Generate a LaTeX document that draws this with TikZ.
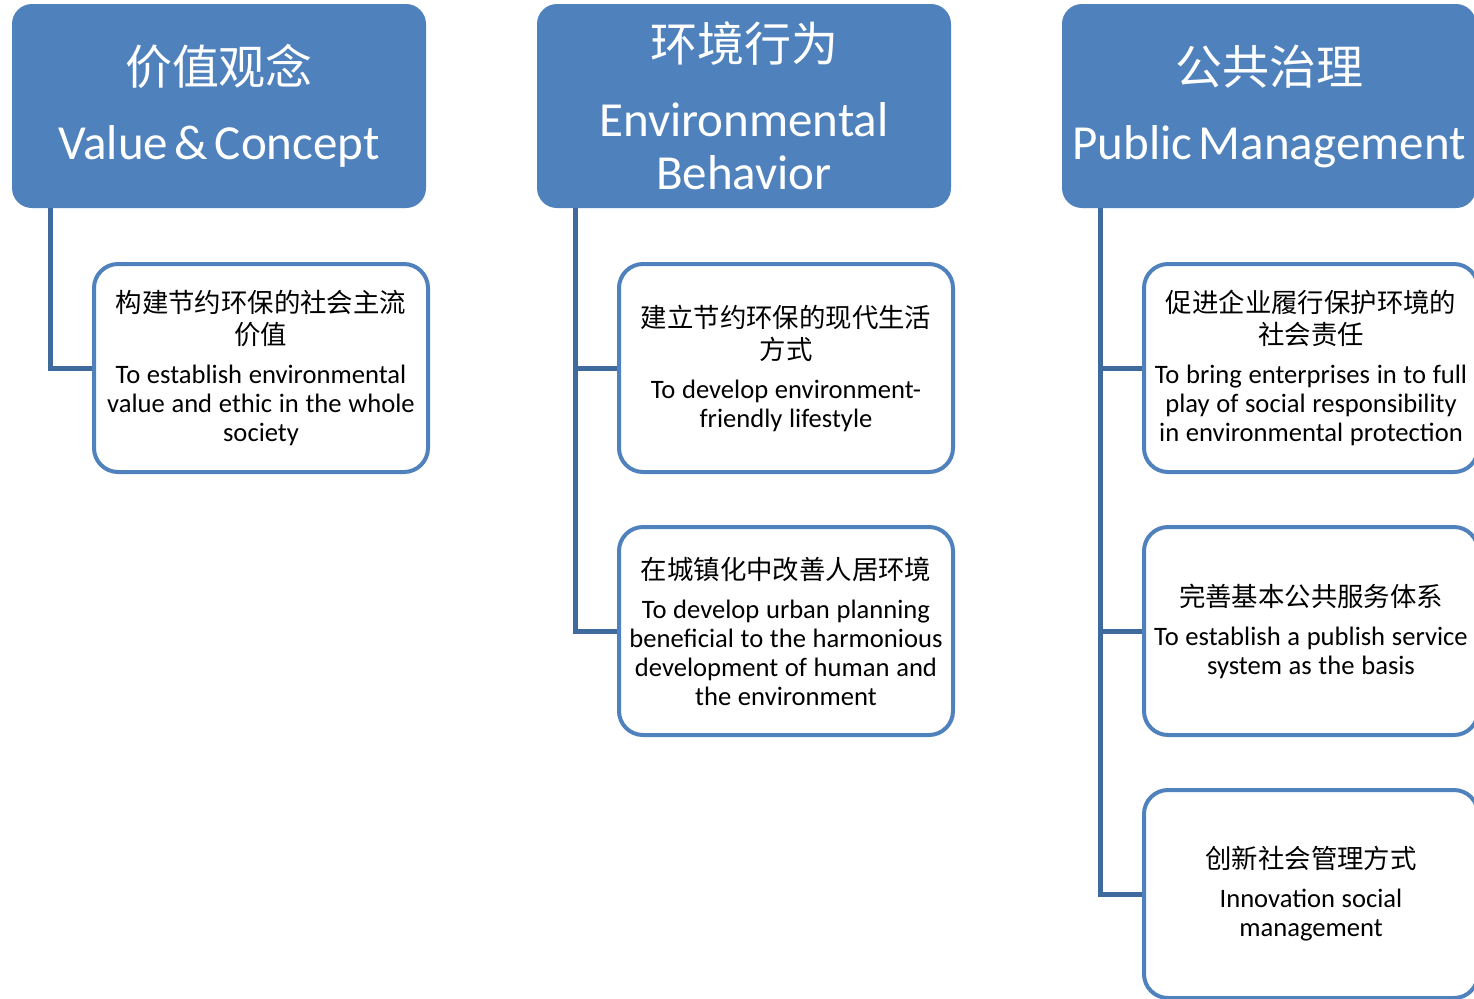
\documentclass[tikz,border=0pt]{standalone}
\usepackage{tikz}
\usepackage{xcolor}
\usepackage{fontspec}
\setmainfont{Carlito}
\newfontfamily\cjk{Noto Sans CJK SC}
\usetikzlibrary{arrows.meta}

\definecolor{headblue}{HTML}{4F81BD}
\definecolor{linkblue}{HTML}{3F6A9E}

\newcommand{\headzh}[1]{{\cjk\fontsize{23.5}{27}\selectfont #1\par}\vspace{11pt}}
\newcommand{\headen}[1]{{\fontsize{24.5}{26.5}\selectfont #1\par}}
\newcommand{\itemzh}[1]{{\cjk\fontsize{13.2}{16}\selectfont #1\par}\vspace{5pt}}
\newcommand{\itemen}[1]{{\fontsize{13.3}{14.5}\selectfont #1\par}}

\begin{document}
\begin{tikzpicture}[x=0.5pt, y=-0.5pt,
  headbox/.style={fill=headblue, rounded corners=10pt, minimum width=207pt,
    minimum height=102pt, text width=204pt, align=center, text=white, inner sep=0pt},
  itembox/.style={draw=headblue, line width=2pt, fill=white, rounded corners=12pt,
    minimum width=167pt, minimum height=104pt, text width=164pt, align=center,
    inner sep=0pt},
  link/.style={draw=linkblue, line width=2.5pt}]
  \clip (0,0) rectangle (1474,998);
  \useasboundingbox (0,0) rectangle (1474,998);

  \node[headbox] (val) at (219,106) {\headzh{价值观念}\headen{Value \& Concept}};
  \node[headbox] (beh) at (744,106) {\headzh{环境行为}\headen{Environmental\\Behavior}};
  \node[headbox] (pub) at (1269,106) {\headzh{公共治理}\headen{Public Management}};

  \node[itembox] (val1) at (261,368) {\itemzh{构建节约环保的社会主流\\价值}%
    \itemen{To establish environmental\\value and ethic in the whole\\society}};

  \node[itembox] (beh1) at (786,368) {\itemzh{建立节约环保的现代生活\\方式}%
    \itemen{To develop environment-\\friendly lifestyle}};
  \node[itembox] (beh2) at (786,631) {\itemzh{在城镇化中改善人居环境}%
    \itemen{To develop urban planning\\beneficial to the harmonious\\development of human and\\the environment}};

  \node[itembox] (pub1) at (1311,368) {\itemzh{促进企业履行保护环境的\\社会责任}%
    \itemen{To bring enterprises in to full\\play of social responsibility\\in environmental protection}};
  \node[itembox] (pub2) at (1311,631) {\itemzh{完善基本公共服务体系}%
    \itemen{To establish a publish service\\system as the basis}};
  \node[itembox] (pub3) at (1311,894) {\itemzh{创新社会管理方式}%
    \itemen{Innovation social\\management}};

  \draw[link] ([xshift=19.5pt]val.south west) |- (val1.west);
  \draw[link] ([xshift=19.5pt]beh.south west) |- (beh1.west);
  \draw[link] ([xshift=19.5pt]beh.south west) |- (beh2.west);
  \draw[link] ([xshift=19.5pt]pub.south west) |- (pub1.west);
  \draw[link] ([xshift=19.5pt]pub.south west) |- (pub2.west);
  \draw[link] ([xshift=19.5pt]pub.south west) |- (pub3.west);
\end{tikzpicture}
\end{document}
